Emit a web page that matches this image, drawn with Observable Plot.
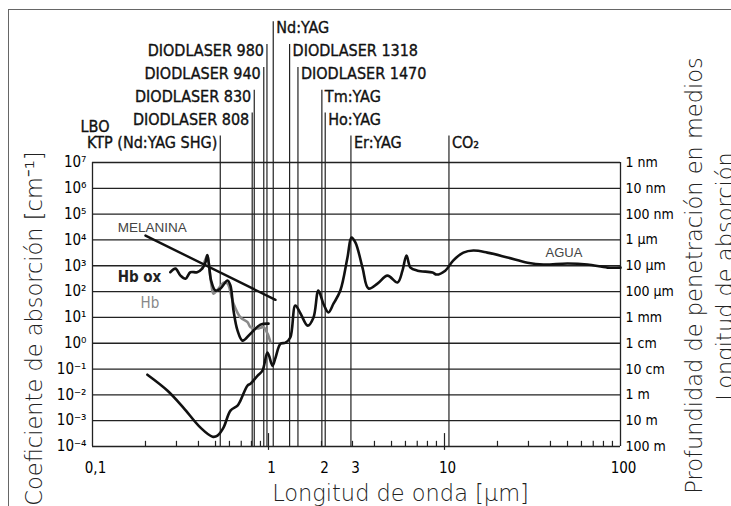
<!DOCTYPE html>
<html><head><meta charset="utf-8">
<script src="https://cdn.jsdelivr.net/npm/d3@7"></script>
<script src="https://cdn.jsdelivr.net/npm/@observablehq/plot@0.6"></script>
<style>
html,body{margin:0;padding:0;background:#fff;width:731px;height:506px;overflow:hidden}
#chart{position:absolute;left:0;top:0}
#frame{position:absolute;left:8px;top:9px;width:800px;height:600px;border-top:1.6px solid #666;border-left:1.6px solid #666;pointer-events:none}
svg text{font-stretch:condensed}
</style></head><body>
<div id="chart"></div><div id="frame"></div>
<script>
// ---- data ----
const xTicks = [0.1, 0.5, 1, 2, 3, 10, 100];
const xTickLabels = ["0,1", "0,5", "1", "2", "3", "10", "100"];
const minorTicks = [0.2,0.3,0.4,0.5,0.6,0.7,0.8,0.9,2,3,4,5,6,7,8,9,20,30,40,50,60,70,80,90];
const majorTicks = [1, 10];
const decades = [7,6,5,4,3,2,1,0,-1,-2,-3,-4];
const leftLabels = ["10⁷","10⁶","10⁵","10⁴","10³","10²","10¹","10⁰","10⁻¹","10⁻²","10⁻³","10⁻⁴"];
const rightLabels = ["1 nm","10 nm","100 nm","1 µm","10 µm","100 µm","1 mm","1 cm","10 cm","1 m","10 m","100 m"];

// lasers: wavelength (µm), label, row (0 = top), side of label
const laserWl    = [0.532, 0.808, 0.83, 0.94, 0.98, 1.064, 1.318, 1.47, 2.01, 2.1, 2.94, 10.6];
const laserNames = ["KTP (Nd:YAG SHG)","DIODLASER 808","DIODLASER 830","DIODLASER 940","DIODLASER 980","Nd:YAG","DIODLASER 1318","DIODLASER 1470","Tm:YAG","Ho:YAG","Er:YAG","CO₂"];
const laserRows  = [5, 4, 3, 2, 1, 0, 1, 2, 3, 4, 5, 5];
const laserSide  = ["left","left","left","left","left","right","right","right","right","right","right","right"];
// label-row baselines, as log10 of the absorption axis
const rowLog = [12.0, 11.12, 10.23, 9.35, 8.47, 7.58];

// absorption curves: [wavelength µm, log10 absorption coefficient cm^-1]
const water = [[0.205,-1.22],[0.267,-1.84],[0.329,-2.50],[0.411,-3.27],[0.481,-3.62],[0.513,-3.58],[0.555,-3.27],[0.608,-2.61],[0.667,-2.42],[0.693,-2.22],[0.760,-1.64],[0.790,-1.57],[0.865,-1.26],[0.924,-1.06],[0.987,-0.36],[1.054,-0.87],[1.096,-0.56],[1.17,-0.02],[1.25,0.02],[1.33,0.22],[1.42,1.46],[1.52,1.15],[1.67,0.68],[1.80,0.99],[1.92,2.04],[2.05,1.53],[2.19,1.19],[2.34,1.53],[2.56,2.04],[2.81,3.32],[2.96,4.09],[3.12,3.90],[3.42,2.93],[3.70,2.12],[4.16,2.31],[4.74,2.62],[5.41,2.35],[5.77,2.81],[6.08,3.40],[6.41,2.93],[7.03,2.81],[8.55,2.74],[9.01,2.66],[10.1,2.81],[11.2,3.20],[12.8,3.51],[14.6,3.59],[17.5,3.51],[22.8,3.32],[29.6,3.12],[36.5,3.05],[50,3.09],[64.9,3.05],[84.4,2.93],[100,2.93]];
const hbOx = [[0.277,2.75],[0.296,2.89],[0.316,2.62],[0.338,2.50],[0.36,2.75],[0.393,2.75],[0.42,2.89],[0.439,3.14],[0.449,3.42],[0.458,3.09],[0.472,2.43],[0.5,2.04],[0.534,2.12],[0.585,2.43],[0.608,2.23],[0.633,1.26],[0.667,0.49],[0.712,0.10],[0.79,0.37],[0.90,0.72],[1.0,0.76]];
const hb = [[0.42,2.89],[0.449,3.40],[0.458,3.09],[0.472,2.35],[0.487,1.92],[0.51,2.05],[0.56,2.35],[0.585,2.31],[0.633,1.53],[0.693,1.00],[0.76,0.82],[0.79,0.62],[0.865,0.57],[0.937,0.62],[0.987,0.37],[1.026,0.03]];
const melanin = [[0.2,4.17],[1.096,1.68]];

// curve labels: [text, wavelength, log10 value at baseline]
const curveLabels = [["MELANINA",0.139,4.32],["Hb ox",0.139,2.36],["Hb",0.1875,1.35],["AGUA",37.5,3.35]];
const lboLabel = ["LBO", 0.0855, 8.2];
const titles = ["Coeficiente de absorción [cm⁻¹]", "Profundidad de penetración en medios", "Longitud de absorción", "Longitud de onda [µm]"];

// ---- build ----
const sansC = "'DejaVu Sans Condensed','DejaVu Sans',sans-serif";
const light = "'DejaVu Sans', sans-serif";
const pw = 10;
const lasers = laserWl.map((wl, i) => ({wl, name: laserNames[i], row: laserRows[i], side: laserSide[i]}));
const pts = arr => arr.map(([wl, l]) => ({wl, v: Math.pow(pw, l)}));
const titleStyle = {lineAnchor: "bottom", textAnchor: "middle", fontSize: 22.5, fontWeight: 200, fontFamily: light, fill: "#222"};

const chart = Plot.plot({
  width: 731, height: 506,
  marginLeft: 92, marginRight: 111, marginTop: 162, marginBottom: 60,
  style: {fontFamily: sansC, background: "#fff", overflow: "visible"},
  x: {type: "log", domain: [0.1, 100]},
  y: {type: "log", domain: [1e-4, 1e7]},
  marks: [
    Plot.ruleY(decades.map(e => Math.pow(pw, e)), {x1: 0.1, x2: 100, stroke: "#222", strokeWidth: 1.3}),
    Plot.ruleX([0.1, 100], {y1: 1e-4, y2: 1e7, stroke: "#222", strokeWidth: 1.3}),
    Plot.ruleX(lasers, {x: "wl", y1: d => Math.pow(pw, rowLog[d.row] + 0.45), y2: 1e-4, stroke: "#222", strokeWidth: 1.2}),
    Plot.ruleX(minorTicks, {y1: 1e-4, y2: Math.pow(pw, -3.8), stroke: "#222", strokeWidth: 1.2}),
    Plot.ruleX(majorTicks, {y1: Math.pow(pw, -4.15), y2: Math.pow(pw, -3.5), stroke: "#222", strokeWidth: 1.2}),
    Plot.line(pts(hb), {x: "wl", y: "v", stroke: "#8a8a8a", strokeWidth: 2.6, curve: "catmull-rom"}),
    Plot.line(pts(water), {x: "wl", y: "v", stroke: "#111", strokeWidth: 2.6, curve: "catmull-rom"}),
    Plot.line(pts(hbOx), {x: "wl", y: "v", stroke: "#111", strokeWidth: 2.6, curve: "catmull-rom"}),
    Plot.line(pts(melanin), {x: "wl", y: "v", stroke: "#111", strokeWidth: 2.4}),
    // laser labels
    Plot.text(lasers.filter(d => d.side === "left"), {x: "wl", y: d => Math.pow(pw, rowLog[d.row]), text: "name", textAnchor: "end", lineAnchor: "bottom", dx: -3, fontSize: 16, fill: "#111", stroke: "#111", strokeWidth: 0.35}),
    Plot.text(lasers.filter(d => d.side === "right"), {x: "wl", y: d => Math.pow(pw, rowLog[d.row]), text: "name", textAnchor: "start", lineAnchor: "bottom", dx: 3, fontSize: 16, fill: "#111", stroke: "#111", strokeWidth: 0.35}),
    Plot.text([lboLabel], {x: d => d[1], y: d => Math.pow(pw, d[2]), text: d => d[0], textAnchor: "start", lineAnchor: "bottom", fontSize: 16, fill: "#111", stroke: "#111", strokeWidth: 0.35}),
    // curve labels
    Plot.text([curveLabels[0]], {x: d => d[1], y: d => Math.pow(pw, d[2]), text: d => d[0], textAnchor: "start", lineAnchor: "bottom", fontSize: 13.5, fontFamily: "'Liberation Sans', Arial, sans-serif", fill: "#444"}),
    Plot.text([curveLabels[1]], {x: d => d[1], y: d => Math.pow(pw, d[2]), text: d => d[0], textAnchor: "start", lineAnchor: "bottom", fontSize: 15, fontWeight: "bold", fill: "#222"}),
    Plot.text([curveLabels[2]], {x: d => d[1], y: d => Math.pow(pw, d[2]), text: d => d[0], textAnchor: "start", lineAnchor: "bottom", fontSize: 15, fill: "#888"}),
    Plot.text([curveLabels[3]], {x: d => d[1], y: d => Math.pow(pw, d[2]), text: d => d[0], textAnchor: "start", lineAnchor: "bottom", fontSize: 13, fontFamily: "'Liberation Sans', Arial, sans-serif", fill: "#444"}),
    // axes
    Plot.axisX({ticks: xTicks, tickFormat: d => xTickLabels[xTicks.indexOf(d)], tickSize: 0, tickPadding: 16, dx: 3, fontSize: 15, label: null}),
    Plot.axisY({anchor: "left", ticks: decades.map(e => Math.pow(pw, e)), tickFormat: d => leftLabels[decades.indexOf(Math.round(Math.log10(d)))], tickSize: 0, tickPadding: 6, fontSize: 15, label: null}),
    Plot.axisY({anchor: "right", ticks: decades.map(e => Math.pow(pw, e)), tickFormat: d => rightLabels[decades.indexOf(Math.round(Math.log10(d)))], tickSize: 0, tickPadding: 5, fontSize: 14, label: null}),
    // titles
    Plot.text([titles[0]], {text: d => d, frameAnchor: "left", rotate: -90, dx: -51, dy: 24, ...titleStyle}),
    Plot.text([titles[1]], {text: d => d, frameAnchor: "right", rotate: -90, dx: 81, dy: -29, ...titleStyle}),
    Plot.text([titles[2]], {text: d => d, frameAnchor: "right", rotate: -90, dx: 112, dy: -28, ...titleStyle}),
    Plot.text([titles[3]], {text: d => d, frameAnchor: "bottom", dx: 44, dy: 54, ...titleStyle})
  ]
});
d3.select(chart).selectAll("text").filter(function () { return titles.includes(this.textContent); }).style("font-stretch", "normal");
document.getElementById("chart").appendChild(chart);
</script>
</body></html>
